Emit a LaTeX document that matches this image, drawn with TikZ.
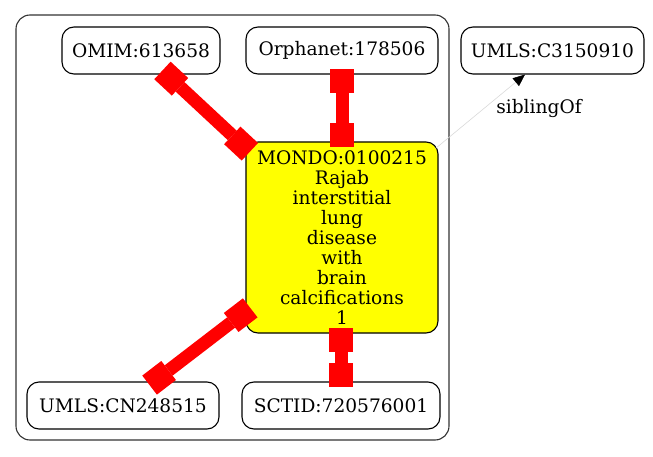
\documentclass[tikz,border=0pt]{standalone}
\usepackage{fontspec}
\setmainfont{DejaVu Serif}
\usetikzlibrary{arrows.meta,calc}
\definecolor{nodeyellow}{RGB}{255,255,0}
\definecolor{linkred}{RGB}{255,0,0}
\begin{document}
\begin{tikzpicture}[x=1pt,y=-1pt,
  every node/.style={font=\fontsize{18.6}{20}\selectfont},
  idbox/.style={draw=black, line width=1.1pt, rounded corners=12pt, inner sep=0pt, minimum height=47pt, align=center},
  redlink/.style={draw=linkred, line width=13pt,
    {Square[length=24pt,width=24pt,line width=0pt]}-{Square[length=24pt,width=24pt,line width=0pt]},
    shorten <=-6pt, shorten >=-6pt},
  siblink/.style={draw=black!15, line width=0.6pt, -{Triangle[length=12pt,width=10pt,color=black]}},
  elabel/.style={fill=none, inner sep=0pt}]
\useasboundingbox (0,0) rectangle (653,457);
\draw[black!80, line width=1.1pt, rounded corners=14pt] (16,15) rectangle (449,440);
\node[idbox, minimum width=158pt] (omim) at (141,50.5) {OMIM:613658};
\node[idbox, minimum width=192pt] (orph) at (342,50.5) {Orphanet:178506};
\node[idbox, minimum width=183pt] (umlsC) at (552.5,50.5) {UMLS:C3150910};
\node[idbox, fill=nodeyellow, minimum width=192pt, minimum height=191pt] (mondo) at (342,237.5)
  {MONDO:0100215\\Rajab\\interstitial\\lung\\disease\\with\\brain\\calcifications\\1};
\node[idbox, minimum width=192pt] (umlsCN) at (123,405.5) {UMLS:CN248515};
\node[idbox, minimum width=198pt] (sctid) at (341,405.5) {SCTID:720576001};
\draw[redlink] (omim) -- (mondo);
\draw[redlink] (orph) -- (mondo);
\draw[redlink] (mondo) -- (umlsCN);
\draw[redlink] (mondo.south -| sctid.north) -- (sctid.north);
\coordinate (sibA) at ($(mondo.north east)+(-3,7)$);
\coordinate (sibB) at ($(umlsC.south)+(-27.5,0)$);
\draw[siblink] (sibA) -- (sibB);
\node[elabel] (siblab) at (539,109) {siblingOf};
\end{tikzpicture}
\end{document}
